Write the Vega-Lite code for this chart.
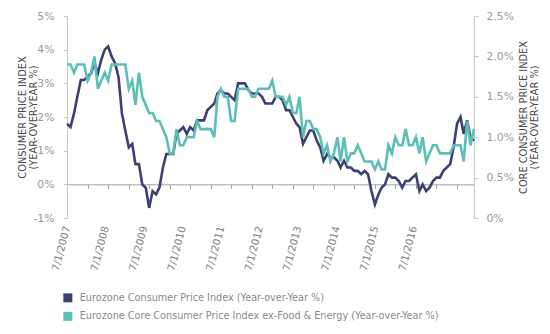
{
  "$schema": "https://vega.github.io/schema/vega-lite/v6.json",
  "width": 407,
  "height": 202,
  "autosize": {"type": "none"},
  "padding": {"left": 67, "top": 16, "right": 76, "bottom": 116},
  "config": {
    "view": {"stroke": null},
    "font": "DejaVu Sans",
    "axis": {"grid": false}
  },
  "data": {"values": [
    {"date":"2007-07-01","cpi":1.8,"core":1.9},{"date":"2007-08-01","cpi":1.7,"core":1.9},{"date":"2007-09-01","cpi":2.1,"core":1.8},{"date":"2007-10-01","cpi":2.6,"core":1.9},{"date":"2007-11-01","cpi":3.1,"core":1.9},{"date":"2007-12-01","cpi":3.1,"core":1.9},
    {"date":"2008-01-01","cpi":3.2,"core":1.7},{"date":"2008-02-01","cpi":3.3,"core":1.8},{"date":"2008-03-01","cpi":3.6,"core":2.0},{"date":"2008-04-01","cpi":3.3,"core":1.6},{"date":"2008-05-01","cpi":3.7,"core":1.7},{"date":"2008-06-01","cpi":4.0,"core":1.8},{"date":"2008-07-01","cpi":4.1,"core":1.7},{"date":"2008-08-01","cpi":3.8,"core":1.9},{"date":"2008-09-01","cpi":3.6,"core":1.9},{"date":"2008-10-01","cpi":3.2,"core":1.9},{"date":"2008-11-01","cpi":2.1,"core":1.9},{"date":"2008-12-01","cpi":1.6,"core":1.9},
    {"date":"2009-01-01","cpi":1.1,"core":1.6},{"date":"2009-02-01","cpi":1.2,"core":1.7},{"date":"2009-03-01","cpi":0.6,"core":1.4},{"date":"2009-04-01","cpi":0.6,"core":1.8},{"date":"2009-05-01","cpi":0.0,"core":1.5},{"date":"2009-06-01","cpi":-0.1,"core":1.4},{"date":"2009-07-01","cpi":-0.7,"core":1.3},{"date":"2009-08-01","cpi":-0.2,"core":1.3},{"date":"2009-09-01","cpi":-0.3,"core":1.2},{"date":"2009-10-01","cpi":-0.1,"core":1.2},{"date":"2009-11-01","cpi":0.5,"core":1.1},{"date":"2009-12-01","cpi":0.9,"core":1.0},
    {"date":"2010-01-01","cpi":0.9,"core":0.8},{"date":"2010-02-01","cpi":0.9,"core":0.8},{"date":"2010-03-01","cpi":1.5,"core":1.1},{"date":"2010-04-01","cpi":1.6,"core":0.9},{"date":"2010-05-01","cpi":1.7,"core":0.9},{"date":"2010-06-01","cpi":1.5,"core":1.0},{"date":"2010-07-01","cpi":1.7,"core":1.0},{"date":"2010-08-01","cpi":1.6,"core":1.0},{"date":"2010-09-01","cpi":1.9,"core":1.2},{"date":"2010-10-01","cpi":1.9,"core":1.1},{"date":"2010-11-01","cpi":1.9,"core":1.1},{"date":"2010-12-01","cpi":2.2,"core":1.1},
    {"date":"2011-01-01","cpi":2.3,"core":1.1},{"date":"2011-02-01","cpi":2.4,"core":1.0},{"date":"2011-03-01","cpi":2.7,"core":1.5},{"date":"2011-04-01","cpi":2.8,"core":1.6},{"date":"2011-05-01","cpi":2.7,"core":1.5},{"date":"2011-06-01","cpi":2.7,"core":1.5},{"date":"2011-07-01","cpi":2.6,"core":1.2},{"date":"2011-08-01","cpi":2.5,"core":1.2},{"date":"2011-09-01","cpi":3.0,"core":1.6},{"date":"2011-10-01","cpi":3.0,"core":1.6},{"date":"2011-11-01","cpi":3.0,"core":1.6},{"date":"2011-12-01","cpi":2.8,"core":1.6},
    {"date":"2012-01-01","cpi":2.7,"core":1.5},{"date":"2012-02-01","cpi":2.7,"core":1.5},{"date":"2012-03-01","cpi":2.7,"core":1.6},{"date":"2012-04-01","cpi":2.6,"core":1.6},{"date":"2012-05-01","cpi":2.4,"core":1.6},{"date":"2012-06-01","cpi":2.4,"core":1.6},{"date":"2012-07-01","cpi":2.4,"core":1.7},{"date":"2012-08-01","cpi":2.6,"core":1.5},{"date":"2012-09-01","cpi":2.6,"core":1.5},{"date":"2012-10-01","cpi":2.5,"core":1.5},{"date":"2012-11-01","cpi":2.2,"core":1.4},{"date":"2012-12-01","cpi":2.2,"core":1.5},
    {"date":"2013-01-01","cpi":2.0,"core":1.3},{"date":"2013-02-01","cpi":1.8,"core":1.3},{"date":"2013-03-01","cpi":1.7,"core":1.5},{"date":"2013-04-01","cpi":1.2,"core":1.0},{"date":"2013-05-01","cpi":1.4,"core":1.2},{"date":"2013-06-01","cpi":1.6,"core":1.2},{"date":"2013-07-01","cpi":1.6,"core":1.1},{"date":"2013-08-01","cpi":1.3,"core":1.1},{"date":"2013-09-01","cpi":1.1,"core":1.0},{"date":"2013-10-01","cpi":0.7,"core":0.8},{"date":"2013-11-01","cpi":0.9,"core":0.9},{"date":"2013-12-01","cpi":0.8,"core":0.7},
    {"date":"2014-01-01","cpi":0.8,"core":0.8},{"date":"2014-02-01","cpi":0.7,"core":1.0},{"date":"2014-03-01","cpi":0.5,"core":0.7},{"date":"2014-04-01","cpi":0.7,"core":1.0},{"date":"2014-05-01","cpi":0.5,"core":0.7},{"date":"2014-06-01","cpi":0.5,"core":0.8},{"date":"2014-07-01","cpi":0.4,"core":0.8},{"date":"2014-08-01","cpi":0.4,"core":0.9},{"date":"2014-09-01","cpi":0.3,"core":0.8},{"date":"2014-10-01","cpi":0.4,"core":0.7},{"date":"2014-11-01","cpi":0.3,"core":0.7},{"date":"2014-12-01","cpi":-0.2,"core":0.7},
    {"date":"2015-01-01","cpi":-0.6,"core":0.6},{"date":"2015-02-01","cpi":-0.3,"core":0.7},{"date":"2015-03-01","cpi":-0.1,"core":0.6},{"date":"2015-04-01","cpi":0.0,"core":0.6},{"date":"2015-05-01","cpi":0.3,"core":0.9},{"date":"2015-06-01","cpi":0.2,"core":0.8},{"date":"2015-07-01","cpi":0.2,"core":1.0},{"date":"2015-08-01","cpi":0.1,"core":0.9},{"date":"2015-09-01","cpi":-0.1,"core":0.9},{"date":"2015-10-01","cpi":0.1,"core":1.1},{"date":"2015-11-01","cpi":0.1,"core":0.9},{"date":"2015-12-01","cpi":0.2,"core":0.9},
    {"date":"2016-01-01","cpi":0.3,"core":1.0},{"date":"2016-02-01","cpi":-0.2,"core":0.8},{"date":"2016-03-01","cpi":0.0,"core":1.0},{"date":"2016-04-01","cpi":-0.2,"core":0.7},{"date":"2016-05-01","cpi":-0.1,"core":0.8},{"date":"2016-06-01","cpi":0.1,"core":0.9},{"date":"2016-07-01","cpi":0.2,"core":0.9},{"date":"2016-08-01","cpi":0.2,"core":0.8},{"date":"2016-09-01","cpi":0.4,"core":0.8},{"date":"2016-10-01","cpi":0.5,"core":0.8},{"date":"2016-11-01","cpi":0.6,"core":0.8},{"date":"2016-12-01","cpi":1.1,"core":0.9},
    {"date":"2017-01-01","cpi":1.8,"core":0.9},{"date":"2017-02-01","cpi":2.0,"core":0.9},{"date":"2017-03-01","cpi":1.5,"core":0.7},{"date":"2017-04-01","cpi":1.9,"core":1.2},{"date":"2017-05-01","cpi":1.4,"core":0.9},{"date":"2017-06-01","cpi":1.3,"core":1.1}
  ]},
  "layer": [
    {
      "mark": {"type": "line", "strokeWidth": 2.6},
      "encoding": {
        "x": {
          "field": "date", "type": "temporal",
          "scale": {"type": "utc", "domain": [{"year": 2007, "month": 7, "date": 1, "utc": true}, {"year": 2017, "month": 6, "date": 1, "utc": true}]},
          "axis": {"orient": "bottom", "offset": -33.67, "labels": false, "title": null, "domainColor": "#a0a0a0", "tickColor": "#a0a0a0", "tickSize": 4, "tickCount": {"interval": "month", "step": 6}}
        },
        "y": {
          "field": "cpi", "type": "quantitative",
          "scale": {"domain": [-1, 5], "nice": false},
          "axis": {
            "orient": "left", "values": [-1, 0, 1, 2, 3, 4, 5], "labelExpr": "datum.value + '%'",
            "domainColor": "#c8c8c8", "tickColor": "#c8c8c8", "tickSize": 4, "labelPadding": 9,
            "labelColor": "#999999", "labelFontSize": 10.8,
            "title": ["CONSUMER PRICE INDEX", "(YEAR-OVER-YEAR %)"],
            "titleFontSize": 9.8, "titleFontWeight": "normal", "titleColor": "#4a4a4a", "titleLineHeight": 11,
            "titleAngle": -90, "titleBaseline": "bottom", "titleX": -40
          }
        },
        "color": {
          "datum": "Eurozone Consumer Price Index (Year-over-Year %)",
          "scale": {"domain": ["Eurozone Consumer Price Index (Year-over-Year %)", "Eurozone Core Consumer Price Index ex-Food & Energy (Year-over-Year %)"], "range": ["#3d3f73", "#5dbfb4"]},
          "legend": {
            "orient": "none", "legendX": -4, "legendY": 277, "title": null, "padding": 0,
            "symbolType": "square", "symbolSize": 81, "labelFont": "DejaVu Sans", "labelFontSize": 9.7, "labelColor": "#8a8a8a",
            "labelOffset": 7, "rowPadding": 7.5, "labelLimit": 0,
            "encode": {"symbols": {"update": {"fill": {"scale": "color", "field": "value"}, "stroke": {"value": "transparent"}, "strokeWidth": {"value": 0}}}}
          }
        }
      }
    },
    {
      "mark": {"type": "line", "strokeWidth": 2.6},
      "encoding": {
        "x": {
          "field": "date", "type": "temporal",
          "scale": {"type": "utc", "domain": [{"year": 2007, "month": 7, "date": 1, "utc": true}, {"year": 2017, "month": 6, "date": 1, "utc": true}]},
          "axis": null
        },
        "y": {
          "field": "core", "type": "quantitative",
          "scale": {"domain": [0, 2.5], "nice": false},
          "axis": {
            "orient": "right", "values": [0, 0.5, 1, 1.5, 2, 2.5],
            "labelExpr": "datum.value == 0 ? '0%' : format(datum.value, '.1f') + '%'",
            "domainColor": "#c8c8c8", "tickColor": "#c8c8c8", "tickSize": 4, "labelPadding": 8,
            "labelColor": "#999999", "labelFontSize": 10.8,
            "title": ["CORE CONSUMER PRICE INDEX", "(YEAR-OVER-YEAR %)"],
            "titleFontSize": 9.8, "titleFontWeight": "normal", "titleColor": "#4a4a4a", "titleLineHeight": 11,
            "titleAngle": -90, "titleBaseline": "bottom", "titleX": 54.5
          }
        },
        "color": {"datum": "Eurozone Core Consumer Price Index ex-Food & Energy (Year-over-Year %)"}
      }
    },
    {
      "mark": {"type": "point", "opacity": 0},
      "encoding": {
        "x": {
          "field": "date", "type": "temporal",
          "scale": {"type": "utc", "domain": [{"year": 2007, "month": 7, "date": 1, "utc": true}, {"year": 2018, "month": 1, "date": 25, "utc": true}]},
          "axis": {
            "orient": "bottom", "domain": false, "ticks": false, "title": null,
            "values": [
              {"year": 2007, "month": 7, "date": 1, "utc": true}, {"year": 2008, "month": 7, "date": 1, "utc": true},
              {"year": 2009, "month": 7, "date": 1, "utc": true}, {"year": 2010, "month": 7, "date": 1, "utc": true},
              {"year": 2011, "month": 7, "date": 1, "utc": true}, {"year": 2012, "month": 7, "date": 1, "utc": true},
              {"year": 2013, "month": 7, "date": 1, "utc": true}, {"year": 2014, "month": 7, "date": 1, "utc": true},
              {"year": 2015, "month": 7, "date": 1, "utc": true}, {"year": 2016, "month": 7, "date": 1, "utc": true}
            ],
            "labelExpr": "utcFormat(datum.value, '%-m/%-d/%Y')",
            "labelAngle": -75, "labelAlign": "right", "labelBaseline": "middle", "labelPadding": 8,
            "labelFontSize": 10.2, "labelColor": "#808080", "labelOverlap": false, "labelBound": false, "labelFlush": false
          }
        }
      }
    }
  ],
  "resolve": {"scale": {"x": "independent", "y": "independent"}}
}
